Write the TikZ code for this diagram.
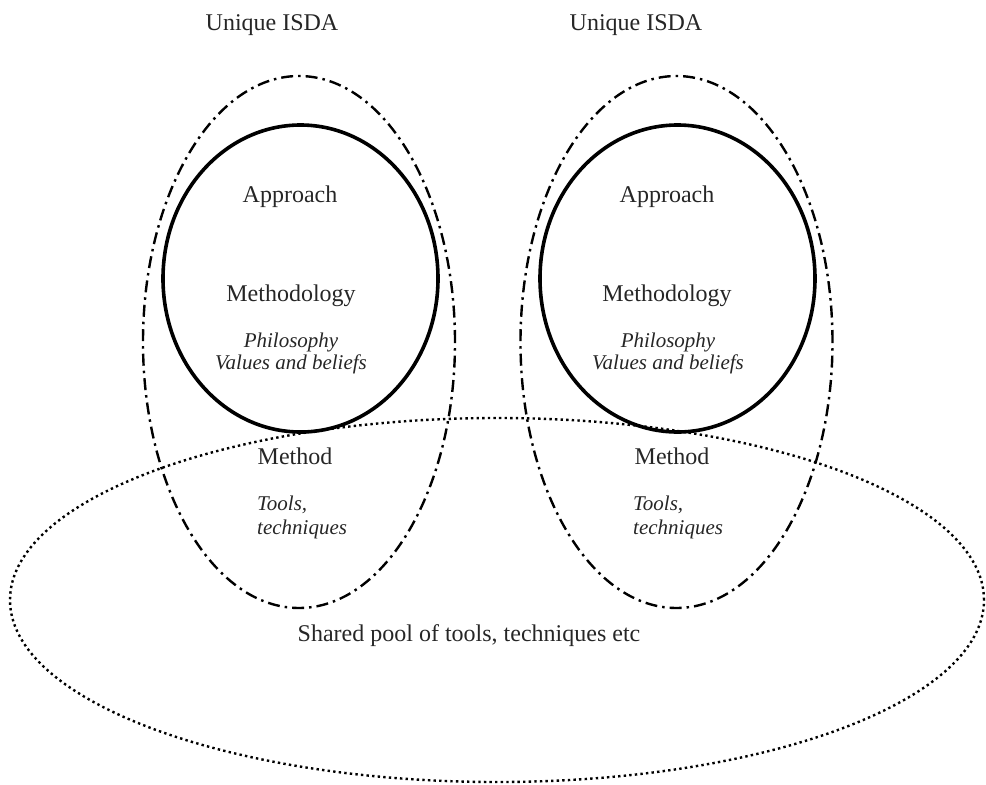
\documentclass[tikz,border=0pt]{standalone}
\usepackage{fontspec}
\setmainfont{Liberation Serif}
\usetikzlibrary{shapes.geometric}
\begin{document}
\begin{tikzpicture}[x=1pt,y=-1pt,
  core/.style={ellipse,draw,line width=3.6pt,inner sep=0pt,minimum width=275pt,minimum height=307pt},
  isda/.style={ellipse,draw,line width=2.4pt,inner sep=0pt,minimum width=312pt,minimum height=532pt,
    dash pattern=on 12pt off 5pt on 2.5pt off 5pt},
  pool/.style={ellipse,draw,line width=2.4pt,inner sep=0pt,minimum width=974pt,minimum height=364pt,
    dash pattern=on 2.4pt off 3.2pt},
  label/.style={text=black!85,font=\fontsize{24}{28}\selectfont,inner sep=0pt},
  note/.style={text=black!85,font=\fontsize{21}{24}\selectfont\itshape,inner sep=0pt,align=center}]
\useasboundingbox (0,0) rectangle (986,785);

% shared pool of tools
\node[pool] (pool) at (497,600) {};
\node[label] (pooltxt) at (469,636) {Shared pool of tools, techniques etc};

% left ISDA
\node[isda] (isdaL) at (299,342) {};
\node[core] (coreL) at (300.5,278.5) {};
\node[label] (titleL) at (272,25) {Unique ISDA};
\node[label] (apprL) at (290,197) {Approach};
\node[label] (methL) at (291,296) {Methodology};
\node[note] (philL) at (291,353) {Philosophy\\[-2pt]Values and beliefs};
\node[label] (methodL) at (295,456) {Method};
\node[note,anchor=west,align=left] (toolsL) at (257,517) {Tools,\\techniques};

% right ISDA
\node[isda] (isdaR) at (676.5,342) {};
\node[core] (coreR) at (677.5,278.5) {};
\node[label] (titleR) at (636,25) {Unique ISDA};
\node[label] (apprR) at (667,197) {Approach};
\node[label] (methR) at (667,296) {Methodology};
\node[note] (philR) at (668,353) {Philosophy\\[-2pt]Values and beliefs};
\node[label] (methodR) at (672,456) {Method};
\node[note,anchor=west,align=left] (toolsR) at (633,517) {Tools,\\techniques};
\end{tikzpicture}
\end{document}
